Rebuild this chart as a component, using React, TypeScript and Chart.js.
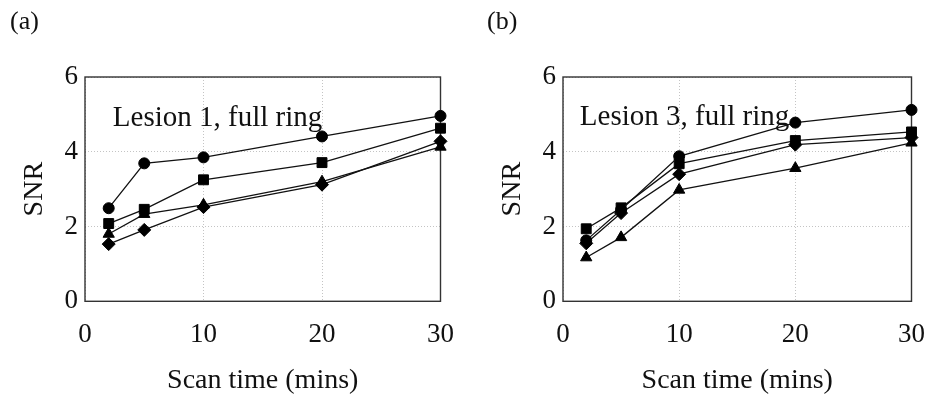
import React, { useEffect, useRef } from "react";
import { Chart, registerables } from "chart.js";

Chart.register(...registerables);

// ---- data ----
const scanTimes = [2, 5, 10, 20, 30];
const xTickValues = [0, 10, 20, 30];
const yTickValues = [0, 2, 4, 6];

const lesion1Circle = [2.49, 3.69, 3.85, 4.41, 4.96];
const lesion1Square = [2.08, 2.46, 3.25, 3.71, 4.63];
const lesion1Triangle = [1.8, 2.33, 2.58, 3.2, 4.13];
const lesion1Diamond = [1.53, 1.91, 2.52, 3.12, 4.28];

const lesion3Circle = [1.63, 2.45, 3.88, 4.78, 5.12];
const lesion3Square = [1.94, 2.5, 3.68, 4.3, 4.53];
const lesion3Diamond = [1.55, 2.36, 3.4, 4.19, 4.38];
const lesion3Triangle = [1.17, 1.71, 2.98, 3.56, 4.24];

const panelTags = ["(a)", "(b)"];
const panelNotes = ["Lesion 1, full ring", "Lesion 3, full ring"];
const xTitle = "Scan time (mins)";
const yTitle = "SNR";

// ---- styling ----
const FONT = "'Liberation Serif', 'Times New Roman', serif";
const W = 471;
const H = 399;

type Series = { values: number[]; style: string; radius: number };

function makeDataset(s: Series) {
  return {
    data: scanTimes.map((t, i) => ({ x: t, y: s.values[i] })),
    borderColor: "#111",
    backgroundColor: "#000",
    pointBackgroundColor: "#000",
    pointBorderColor: "#000",
    pointBorderWidth: 1,
    borderWidth: 1.3,
    pointStyle: s.style,
    pointRadius: s.radius,
    tension: 0,
    clip: false as any,
  };
}

type PanelProps = {
  tag: string;
  note: string;
  noteX: number;
  noteY: number;
  tagX: number;
  series: Series[];
  padLeft: number;
  axisWidth: number;
  padRight: number;
};

function Panel(props: PanelProps) {
  const ref = useRef<HTMLCanvasElement | null>(null);
  useEffect(() => {
    if (!ref.current) return;
    const p = props;
    const decor = {
      id: "decor",
      beforeDatasetsDraw(chart: any) {
        const { ctx, chartArea } = chart;
        ctx.save();
        ctx.strokeStyle = "#333";
        ctx.lineWidth = 1.4;
        ctx.strokeRect(
          chartArea.left,
          chartArea.top,
          chartArea.right - chartArea.left,
          chartArea.bottom - chartArea.top
        );
        ctx.restore();
      },
      afterDraw(chart: any) {
        const { ctx } = chart;
        const xs = chart.scales.x;
        const ys = chart.scales.y;
        ctx.save();
        ctx.fillStyle = "#111";
        ctx.textAlign = "left";
        ctx.textBaseline = "alphabetic";
        ctx.font = `29px ${FONT}`;
        ctx.fillText(p.note, xs.getPixelForValue(p.noteX), ys.getPixelForValue(p.noteY));
        ctx.font = `26px ${FONT}`;
        ctx.textBaseline = "middle";
        ctx.fillText(p.tag, p.tagX, 22);
        ctx.restore();
      },
    };
    const chart = new Chart(ref.current, {
      type: "line",
      data: { datasets: p.series.map(makeDataset) as any },
      options: {
        responsive: false,
        animation: false,
        layout: { padding: { top: 77, bottom: 0, left: p.padLeft, right: p.padRight } },
        plugins: { legend: { display: false }, tooltip: { enabled: false }, title: { display: false } },
        scales: {
          x: {
            type: "linear",
            min: 0,
            max: 30,
            afterBuildTicks: (axis: any) => {
              axis.ticks = xTickValues.map((v) => ({ value: v }));
            },
            afterFit: (axis: any) => {
              axis.height = H - 301.3;
            },
            ticks: { color: "#111", font: { family: FONT, size: 27 }, padding: 17, maxRotation: 0 },
            grid: { color: "#c4c4c4", lineWidth: 1, drawTicks: false },
            border: { display: false, dash: [1, 2] },
            title: {
              display: true,
              text: xTitle,
              color: "#111",
              font: { family: FONT, size: 28 },
              padding: { top: 0, bottom: 2 },
            },
          },
          y: {
            type: "linear",
            min: 0,
            max: 6,
            afterBuildTicks: (axis: any) => {
              axis.ticks = yTickValues.map((v) => ({ value: v }));
            },
            afterFit: (axis: any) => {
              axis.width = p.axisWidth;
            },
            ticks: { color: "#111", font: { family: FONT, size: 27 }, padding: 7 },
            grid: { color: "#c4c4c4", lineWidth: 1, drawTicks: false },
            border: { display: false, dash: [1, 2] },
            title: {
              display: true,
              text: yTitle,
              color: "#111",
              font: { family: FONT, size: 28 },
              padding: { top: 0, bottom: 0 },
            },
          },
        },
      },
      plugins: [decor],
    } as any);
    return () => chart.destroy();
  }, []);
  return <canvas ref={ref} width={W} height={H} style={{ display: "block", width: W, height: H }} />;
}

export default function App() {
  return (
    <div
      style={{
        position: "fixed",
        left: 0,
        top: 0,
        width: 942,
        height: 399,
        background: "#fff",
        display: "flex",
      }}
    >
      <Panel
        tag={panelTags[0]}
        note={panelNotes[0]}
        noteX={2.35}
        noteY={4.68}
        tagX={10}
        padLeft={18}
        axisWidth={67}
        padRight={29}
        series={[
          { values: lesion1Circle, style: "circle", radius: 5.5 },
          { values: lesion1Square, style: "rect", radius: 7 },
          { values: lesion1Diamond, style: "rectRot", radius: 6.5 },
          { values: lesion1Triangle, style: "triangle", radius: 6.5 },
        ]}
      />
      <Panel
        tag={panelTags[1]}
        note={panelNotes[1]}
        noteX={1.45}
        noteY={4.72}
        tagX={16}
        padLeft={25}
        axisWidth={67}
        padRight={20}
        series={[
          { values: lesion3Circle, style: "circle", radius: 5.5 },
          { values: lesion3Square, style: "rect", radius: 7 },
          { values: lesion3Diamond, style: "rectRot", radius: 6.5 },
          { values: lesion3Triangle, style: "triangle", radius: 6.5 },
        ]}
      />
    </div>
  );
}
